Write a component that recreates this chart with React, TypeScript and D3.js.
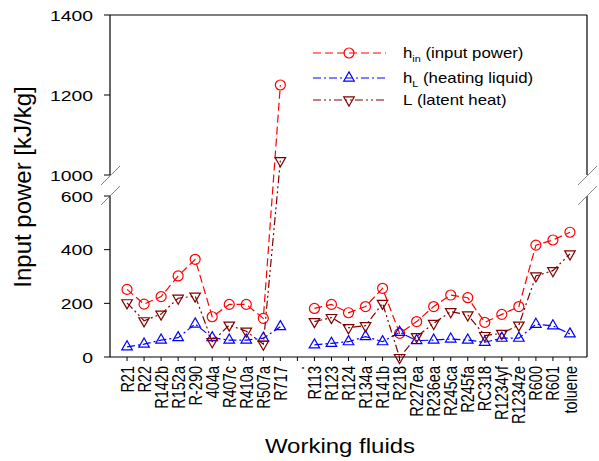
import { useEffect, useRef } from "react";
import * as d3 from "d3";

const fluids = [
  "R21", "R22", "R142b", "R152a", "R-290", "404a", "R407c", "R410a", "R507a", "R717",
  ".",
  "R113", "R123", "R124", "R134a", "R141b", "R218", "R227ea", "R236ea", "R245ca",
  "R245fa", "RC318", "R1234yf", "R1234ze", "R600", "R601", "toluene",
];

// h_in (input power)
const inputPower = [
  252, 197, 225, 302, 364, 150, 196, 196, 144, 1225,
  null,
  181, 196, 165, 188, 256, 88, 132, 188, 231, 221, 129, 159, 188, 417, 436, 465,
];

// h_L (heating liquid)
const heatingLiquid = [
  38, 48, 63, 72, 123, 72, 63, 63, 70, 113,
  null,
  45, 51, 57, 76, 57, 92, 61, 63, 67, 63, 55, 70, 70, 122, 116, 86,
];

// L (latent heat)
const latentHeat = [
  202, 135, 160, 219, 227, 57, 119, 96, 48, 1036,
  null,
  132, 147, 109, 117, 200, -2, 76, 125, 169, 157, 80, 88, 119, 302, 322, 384,
];

const lowerTicks = [0, 200, 400, 600];
const upperTicks = [1000, 1200, 1400];

const W = 599;
const H = 461;
const font = "'Liberation Sans', Arial, sans-serif";

export default function App() {
  const ref = useRef(null);

  useEffect(() => {
    const svg = d3.select(ref.current);
    svg.selectAll("*").remove();

    const left = 110;
    const right = 587;

    const x = d3.scalePoint().domain(fluids).range([left, right]).padding(1);
    // broken axis: 0-600 below, 1000-1400 above
    const y = d3
      .scaleLinear()
      .domain([0, 600, 1000, 1400])
      .range([357, 196, 175, 15]);

    const g = svg.append("g");

    // frame
    const frame = [
      [left, y(1400), left, y(1000)],
      [left, y(600), left, y(0)],
      [right, y(1400), right, y(1000)],
      [right, y(600), right, y(0)],
      [left, y(1400), right, y(1400)],
      [left, y(0), right, y(0)],
    ];
    g.selectAll(".frame")
      .data(frame)
      .join("line")
      .attr("x1", (d) => d[0])
      .attr("y1", (d) => d[1])
      .attr("x2", (d) => d[2])
      .attr("y2", (d) => d[3])
      .attr("stroke", "#000")
      .attr("stroke-width", 1.2);

    // break marks
    const breaks = [];
    [left, right].forEach((bx) => {
      [y(1000) + 1, y(600)].forEach((by) => breaks.push([bx, by]));
    });
    g.selectAll(".brk")
      .data(breaks)
      .join("line")
      .attr("x1", (d) => d[0] - 9)
      .attr("y1", (d) => d[1] + 9)
      .attr("x2", (d) => d[0] + 10)
      .attr("y2", (d) => d[1] - 10)
      .attr("stroke", "#888")
      .attr("stroke-width", 1);

    // y ticks
    const yt = [...lowerTicks, ...upperTicks];
    g.selectAll(".ytick")
      .data(yt)
      .join("line")
      .attr("x1", left - 6)
      .attr("x2", left)
      .attr("y1", (d) => y(d))
      .attr("y2", (d) => y(d))
      .attr("stroke", "#000");
    g.selectAll(".ylab")
      .data(yt)
      .join("text")
      .attr("transform", (d) => `translate(93,${y(d)}) scale(1.25,1)`)
      .attr("dy", "0.36em")
      .attr("text-anchor", "end")
      .style("font-family", font)
      .style("font-size", "15.5px")
      .text((d) => d);

    // x ticks
    g.selectAll(".xtick")
      .data(fluids)
      .join("line")
      .attr("x1", (d) => x(d))
      .attr("x2", (d) => x(d))
      .attr("y1", y(0))
      .attr("y2", y(0) + 4)
      .attr("stroke", "#000");
    g.selectAll(".xlab")
      .data(fluids)
      .join("text")
      .attr("transform", (d) => `translate(${x(d)},366) scale(1.25,1) rotate(-90)`)
      .attr("dy", "0.36em")
      .attr("text-anchor", "end")
      .style("font-family", font)
      .style("font-size", "14.5px")
      .text((d) => d);

    // axis titles
    g.append("text")
      .attr("transform", `translate(31,187) rotate(-90)`)
      .attr("text-anchor", "middle")
      .style("font-family", font)
      .style("font-size", "24px")
      .text("Input power [kJ/kg]");
    g.append("text")
      .attr("transform", `translate(340,453) scale(1.2,1)`)
      .attr("text-anchor", "middle")
      .style("font-family", font)
      .style("font-size", "20px")
      .text("Working fluids");

    const series = [
      { name: "in", values: inputPower, color: "#ff0000", dash: "8,4", marker: "circle" },
      { name: "L", values: heatingLiquid, color: "#0000ff", dash: "8,3,2,3", marker: "up" },
      { name: "lat", values: latentHeat, color: "#800000", dash: "8,3,2,3,2,3", marker: "down" },
    ];

    const tri = d3.symbol(d3.symbolTriangle, 48);

    const drawMarker = (sel, marker, color) => {
      if (marker === "circle") {
        sel.append("circle").attr("r", 5).attr("fill", "none").attr("stroke", color).attr("stroke-width", 1.2);
      } else {
        sel
          .append("path")
          .attr("d", tri())
          .attr("transform", marker === "down" ? "rotate(180)" : null)
          .attr("fill", "none")
          .attr("stroke", color)
          .attr("stroke-width", 1.2);
      }
    };

    series.forEach((s) => {
      const pts = fluids.map((f, i) => ({ f, v: s.values[i] }));
      const line = d3
        .line()
        .defined((d) => d.v != null)
        .x((d) => x(d.f))
        .y((d) => y(d.v));
      g.append("path")
        .datum(pts)
        .attr("d", line)
        .attr("fill", "none")
        .attr("stroke", s.color)
        .attr("stroke-width", 1.2)
        .attr("stroke-dasharray", s.dash);
      const m = g
        .selectAll(".m-" + s.name)
        .data(pts.filter((d) => d.v != null))
        .join("g")
        .attr("transform", (d) => `translate(${x(d.f)},${y(d.v)})`);
      drawMarker(m, s.marker, s.color);
    });

    // legend
    const legendRows = [
      { s: series[0], main: "h", sub: "in", rest: " (input power)", y: 53 },
      { s: series[1], main: "h", sub: "L", rest: " (heating liquid)", y: 78 },
      { s: series[2], main: "L", sub: "", rest: " (latent heat)", y: 100 },
    ];
    legendRows.forEach((r) => {
      g.append("line")
        .attr("x1", 313)
        .attr("x2", 386)
        .attr("y1", r.y)
        .attr("y2", r.y)
        .attr("stroke", r.s.color)
        .attr("stroke-width", 1.2)
        .attr("stroke-dasharray", r.s.dash);
      const mg = g.append("g").attr("transform", `translate(349,${r.y})`);
      drawMarker(mg, r.s.marker, r.s.color);
      const t = g
        .append("text")
        .attr("transform", `translate(403,${r.y + 5}) scale(1.2,1)`)
        .style("font-family", font)
        .style("font-size", "14px");
      t.append("tspan").text(r.main);
      if (r.sub) t.append("tspan").attr("dy", 4).style("font-size", "9px").text(r.sub);
      t.append("tspan").attr("dy", r.sub ? -4 : 0).text(r.rest);
    });
  }, []);

  return (
    <svg
      ref={ref}
      width={W}
      height={H}
      style={{ position: "absolute", left: 0, top: 0, background: "#fff" }}
    />
  );
}
